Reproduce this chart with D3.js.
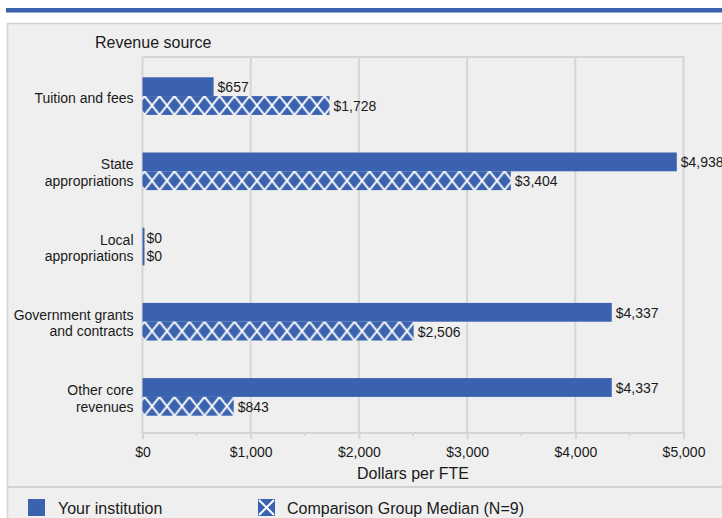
<!DOCTYPE html>
<html>
<head>
<meta charset="utf-8">
<script src="https://cdn.jsdelivr.net/npm/d3@7"></script>
<style>
  html, body { margin: 0; padding: 0; background: #ffffff; }
  svg { display: block; font-family: "Liberation Sans", Arial, sans-serif; }
</style>
</head>
<body>
<svg id="chart" width="722" height="518"></svg>
<script>
// ---- data ----
const categories = ["Tuition and fees", "State appropriations", "Local appropriations", "Government grants and contracts", "Other core revenues"];
const categoryLines = [["Tuition and fees"], ["State", "appropriations"], ["Local", "appropriations"], ["Government grants", "and contracts"], ["Other core", "revenues"]];
const yourInstitution = [657, 4938, 0, 4337, 4337];
const comparisonMedian = [1728, 3404, 0, 2506, 843];
const xTicks = [0, 1000, 2000, 3000, 4000, 5000];
const seriesNames = ["Your institution", "Comparison Group Median (N=9)"];
const yTitle = "Revenue source";
const xTitle = "Dollars per FTE";

// ---- style ----
const BLUE = "#3a62ae";
const PANEL = "#efefef";
const GRID = "#d5d5d5";
const TEXT = "#1a1a1a";
const SMALL = 14;
const LARGE = 16;

const svg = d3.select("#chart");
const W = 722, H = 518;

// top stripe
svg.append("rect").attr("x", 6).attr("y", 8).attr("width", W - 6).attr("height", 4.5).attr("fill", BLUE);
// panel
svg.append("rect").attr("x", 7.5).attr("y", 23.5).attr("width", W + 10).attr("height", H)
  .attr("fill", PANEL).attr("stroke", "#d2d2d2").attr("stroke-width", 1.5);

const plot = { left: 142.5, right: 683.5, top: 57, bottom: 433 };

const x = d3.scaleLinear().domain([0, 5000]).range([plot.left, plot.right]);
const y = d3.scaleBand().domain(categories).range([plot.top + 1.5, plot.bottom + 1.5]).paddingInner(0.5).paddingOuter(0.25);
const sub = d3.scaleBand().domain(["a", "b"]).range([0, y.bandwidth()]);

// defs: hatch pattern
const defs = svg.append("defs");
const bh = sub.bandwidth();
const pw = 15;
const pat = defs.append("pattern").attr("id", "xhatch").attr("patternUnits", "userSpaceOnUse")
  .attr("x", 2).attr("y", 0).attr("width", pw).attr("height", bh);
pat.append("rect").attr("width", pw).attr("height", bh).attr("fill", BLUE);
[-pw, 0, pw].forEach(o => {
  pat.append("line").attr("x1", o).attr("y1", 0).attr("x2", o + pw).attr("y2", bh)
    .attr("stroke", "#fff").attr("stroke-width", 2);
  pat.append("line").attr("x1", o + pw).attr("y1", 0).attr("x2", o).attr("y2", bh)
    .attr("stroke", "#fff").attr("stroke-width", 2);
});

// grid lines (vertical)
const grid = svg.append("g");
grid.selectAll("line").data(xTicks.slice(1)).join("line")
  .attr("x1", d => x(d)).attr("x2", d => x(d)).attr("y1", plot.top).attr("y2", plot.bottom)
  .attr("stroke", GRID).attr("stroke-width", 2);
// plot box top and left
svg.append("line").attr("x1", plot.left).attr("x2", plot.right + 1).attr("y1", plot.top).attr("y2", plot.top)
  .attr("stroke", GRID).attr("stroke-width", 2);
svg.append("line").attr("x1", plot.left).attr("x2", plot.left).attr("y1", plot.top).attr("y2", plot.bottom)
  .attr("stroke", GRID).attr("stroke-width", 2);

// x axis
const xAxis = d3.axisBottom(x).tickValues(xTicks).tickSize(6).tickPadding(8)
  .tickFormat(d => "$" + d3.format(",")(d));
const ax = svg.append("g").attr("transform", `translate(0,${plot.bottom})`).call(xAxis);
ax.select(".domain").attr("stroke", GRID).attr("stroke-width", 2).attr("d", `M${plot.left - 1},0H${plot.right + 1}`);
ax.selectAll(".tick line").attr("stroke", GRID).attr("stroke-width", 2);
ax.selectAll(".tick text").attr("fill", TEXT).attr("font-size", SMALL).attr("font-family", "Liberation Sans, Arial, sans-serif");
// minor ticks
const minor = d3.range(500, 5000, 1000);
svg.append("g").selectAll("line").data(minor).join("line")
  .attr("x1", d => x(d)).attr("x2", d => x(d)).attr("y1", plot.bottom).attr("y2", plot.bottom + 3)
  .attr("stroke", GRID).attr("stroke-width", 2);

// category labels
const catG = svg.append("g");
categories.forEach((c, i) => {
  const lines = categoryLines[i];
  const cy = y(c) + y.bandwidth() / 2 + 1.5;
  const lh = 16.5;
  const t = catG.append("text").attr("text-anchor", "end").attr("font-size", SMALL).attr("fill", TEXT);
  lines.forEach((ln, j) => {
    t.append("tspan").attr("x", plot.left - 9)
      .attr("y", cy + (j - (lines.length - 1) / 2) * lh).attr("dy", "0.35em").text(ln);
  });
});

// bars
const fmt = v => "$" + d3.format(",")(v);
const barsG = svg.append("g");
categories.forEach((c, i) => {
  const v1 = yourInstitution[i], v2 = comparisonMedian[i];
  const y1 = y(c) + sub("a"), y2 = y(c) + sub("b");
  barsG.append("rect").attr("x", x(0)).attr("y", y1)
    .attr("width", Math.max(x(v1) - x(0), 2)).attr("height", bh).attr("fill", BLUE);
  const g2 = barsG.append("g").attr("transform", `translate(${x(0)},${y2})`);
  g2.append("rect").attr("x", 0).attr("y", 0)
    .attr("width", Math.max(x(v2) - x(0), 2)).attr("height", bh).attr("fill", v2 > 0 ? "url(#xhatch)" : BLUE);
  barsG.append("text").attr("x", x(v1) + 4).attr("y", y1 + bh / 2 + 0.5).attr("dy", "0.35em")
    .attr("font-size", SMALL).attr("fill", TEXT).text(fmt(v1));
  barsG.append("text").attr("x", x(v2) + 4).attr("y", y2 + bh / 2 + 0.5).attr("dy", "0.35em")
    .attr("font-size", SMALL).attr("fill", TEXT).text(fmt(v2));
});

// titles
svg.append("text").attr("x", 95).attr("y", 48).attr("font-size", LARGE).attr("fill", TEXT).text(yTitle);
svg.append("text").attr("x", (plot.left + plot.right) / 2).attr("y", 479).attr("text-anchor", "middle")
  .attr("font-size", LARGE).attr("fill", TEXT).text(xTitle);

// legend separator
svg.append("line").attr("x1", 8).attr("x2", W).attr("y1", 487).attr("y2", 487)
  .attr("stroke", "#d2d2d2").attr("stroke-width", 2);

// legend
const leg = svg.append("g");
leg.append("rect").attr("x", 28).attr("y", 499).attr("width", 17).attr("height", 17).attr("fill", BLUE);
leg.append("text").attr("x", 58).attr("y", 508).attr("dy", "0.35em").attr("font-size", LARGE).attr("fill", TEXT).text(seriesNames[0]);
const li = leg.append("g").attr("transform", "translate(258,499)");
li.append("rect").attr("width", 17).attr("height", 17).attr("fill", BLUE);
li.append("line").attr("x1", 1).attr("y1", 1).attr("x2", 16).attr("y2", 16).attr("stroke", "#fff").attr("stroke-width", 2);
li.append("line").attr("x1", 16).attr("y1", 1).attr("x2", 1).attr("y2", 16).attr("stroke", "#fff").attr("stroke-width", 2);
leg.append("text").attr("x", 287).attr("y", 508).attr("dy", "0.35em").attr("font-size", LARGE).attr("fill", TEXT).text(seriesNames[1]);
</script>
</body>
</html>
